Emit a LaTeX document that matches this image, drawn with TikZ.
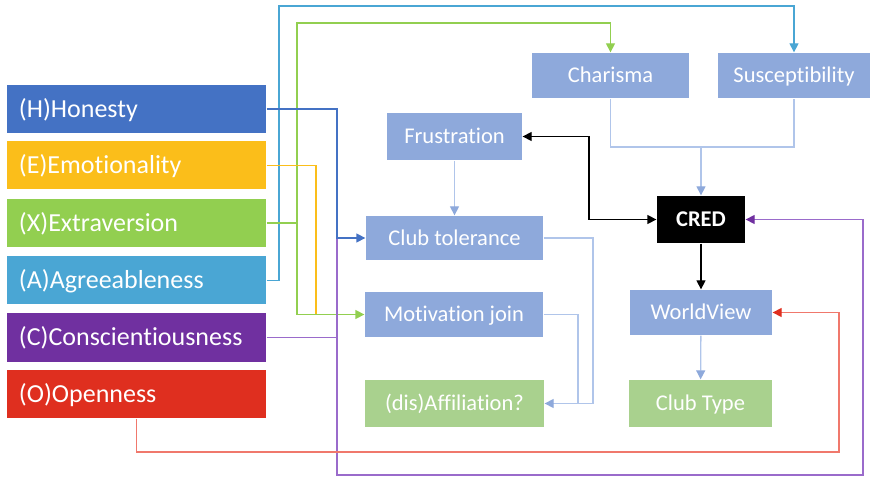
\documentclass[tikz,border=0pt]{standalone}
\usepackage{fontspec}
\setmainfont{Carlito}[Ligatures=NoCommon]
\usetikzlibrary{arrows.meta}
\definecolor{hexH}{HTML}{4472C4}
\definecolor{hexE}{HTML}{FBBE1A}
\definecolor{hexX}{HTML}{92CF50}
\definecolor{hexA}{HTML}{4AA6D4}
\definecolor{hexC}{HTML}{7030A0}
\definecolor{hexO}{HTML}{DF2F1F}
\definecolor{boxblue}{HTML}{8EA9DB}
\definecolor{boxgreen}{HTML}{A9D18E}
\definecolor{linkblue}{HTML}{B0C5EA}
\definecolor{lineC}{HTML}{9A6BCB}
\definecolor{lineO}{HTML}{F0786C}

\begin{document}
\begin{tikzpicture}[x=1pt,y=-1pt,line width=1.3pt,
	trait/.style={fill=#1,text=white,minimum height=48pt,text width=235pt,text height=16.7pt,text depth=0pt,inner xsep=12pt,inner ysep=0pt,align=left,font=\fontsize{26}{28}\selectfont,anchor=center},
	factor/.style={fill=#1,text=white,minimum height=45pt,text height=14.5pt,text depth=0pt,inner sep=0pt,font=\fontsize{22.5}{24}\selectfont,anchor=center},
	tip/.style={-{Triangle[length=9pt,width=9pt,fill=#1,color=#1]}},
	link/.style={linkblue,tip=boxblue}]
				\useasboundingbox (0,0) rectangle (870,478);
				% traits
				\node[trait=hexH] (hon) at (136.5,109) {(H)Honesty};
				\node[trait=hexE] (emo) at (136.5,165.5) {(E)Emotionality};
				\node[trait=hexX] (extra) at (136.5,223) {(X)Extraversion};
				\node[trait=hexA] (agree) at (136.5,280.5) {(A)Agreeableness};
				\node[trait=hexC] (consc) at (136.5,337.5) {(C)Conscientiousness};
				\node[trait=hexO] (open) at (136.5,394) {(O)Openness};
				% factors
				\node[factor=boxblue,minimum width=157pt] (char) at (610.5,75.5) {Charisma};
				\node[factor=boxblue,minimum width=152pt] (susc) at (794,75.5) {Susceptibility};
				\node[factor=boxblue,minimum width=135pt,minimum height=47pt] (frus) at (454.5,136.5) {Frustration};
				\node[factor=black,minimum width=88pt,minimum height=47pt,font=\fontsize{22.5}{24}\selectfont\bfseries] (cred) at (701,219.5) {CRED};
				\node[factor=boxblue,minimum width=177pt,minimum height=44pt] (club) at (454.5,238) {Club tolerance};
				\node[factor=boxblue,minimum width=178pt] (motiv) at (454,314.5) {Motivation join};
				\node[factor=boxgreen,minimum width=179pt,minimum height=47pt] (aff) at (454.5,403.5) {(dis)Affiliation?};
				\node[factor=boxblue,minimum width=142pt] (world) at (701,312.5) {WorldView};
				\node[factor=boxgreen,minimum width=143pt,minimum height=47pt] (type) at (700.5,403.5) {Club Type};

				% traits to factors
				\draw[hexA,tip=hexA] (agree.east) -| (279,6) -| (susc.north);
				\draw[hexX,tip=hexX] (extra.east) -| (297,23) -| (char.north);
				\draw[hexE] (emo.east) -| (316,314.5);
				\draw[hexX,tip=hexX] (297,223) |- (motiv.west);
				\draw[lineC] (consc.east) -| (337,238);
				\draw[lineC,tip=hexC] (337,337.5) |- (863,475) |- (cred.east);
				\draw[hexH,tip=hexH] (hon.east) -| (337,238) -- (club.west);
				\draw[lineO,tip=hexO] (open.south) |- (839,452) |- (world.east);
				% factors
				\draw[linkblue] (char.south) |- (701,147) -| (susc.south);
				\draw[link] (701,147) -- (cred.north);
				\draw[link] (frus) -- (club);
				\draw[{Triangle[length=9pt,width=9pt]}-{Triangle[length=9pt,width=9pt]}] (frus.east) -| (589,219.5) -- (cred.west);
				\draw[-{Triangle[length=9pt,width=9pt]}] (cred) -- (world);
				\draw[link] (world) -- (type);
				\draw[linkblue] (motiv.east) -| (578,403.5);
				\draw[link] (club.east) -| (593,403.5) -- (aff.east);
			\end{tikzpicture}
\end{document}
